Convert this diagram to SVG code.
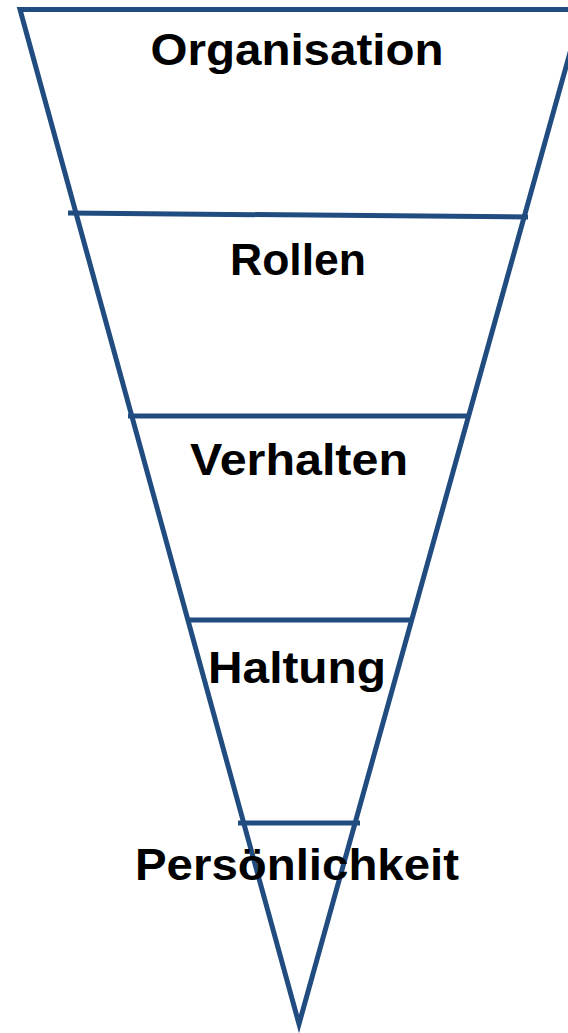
<svg xmlns="http://www.w3.org/2000/svg" width="568" height="1033" viewBox="0 0 568 1033">
  <style>
    .ln { stroke: #204C80; stroke-width: 5; fill: none; }
    .lbl { font-family: "Liberation Sans", Arial, sans-serif; font-weight: bold; font-size: 44px; fill: #000000; text-anchor: middle; }
  </style>
  <rect x="0" y="0" width="568" height="1033" fill="#ffffff"/>
  <g id="funnel">
    <polygon class="ln" stroke-linejoin="miter" points="20,9.5 582,9.5 299,1024"/>
  </g>
  <g id="dividers">
    <line class="ln" x1="68" y1="213" x2="528" y2="217"/>
    <line class="ln" x1="128" y1="416" x2="470" y2="416"/>
    <line class="ln" x1="186" y1="620" x2="412" y2="620"/>
    <line class="ln" x1="238" y1="823" x2="360" y2="823"/>
  </g>
  <g id="organisation"><text class="lbl" x="297" y="65" textLength="293" lengthAdjust="spacingAndGlyphs">Organisation</text></g>
  <g id="rollen"><text class="lbl" x="298" y="275" textLength="136" lengthAdjust="spacingAndGlyphs">Rollen</text></g>
  <g id="verhalten"><text class="lbl" x="299" y="475" textLength="218" lengthAdjust="spacingAndGlyphs">Verhalten</text></g>
  <g id="haltung"><text class="lbl" x="297" y="683" textLength="178" lengthAdjust="spacingAndGlyphs">Haltung</text></g>
  <g id="persoenlichkeit"><text class="lbl" x="297" y="880" textLength="324" lengthAdjust="spacingAndGlyphs">Persönlichkeit</text></g>
</svg>
